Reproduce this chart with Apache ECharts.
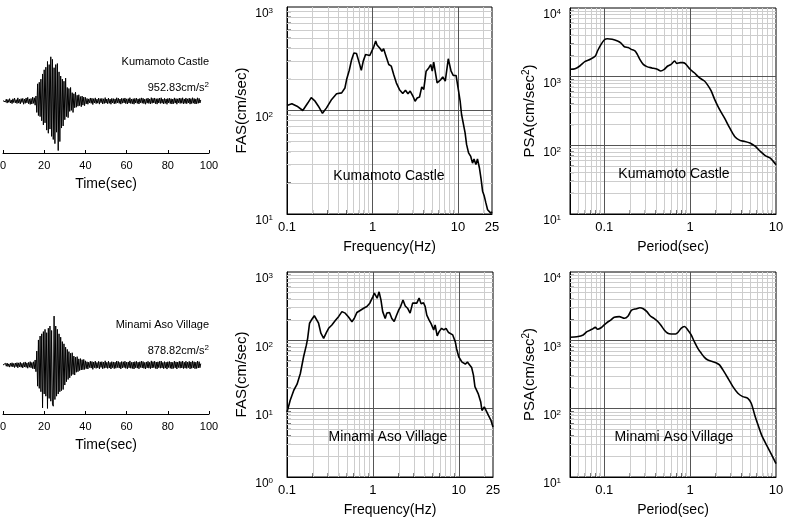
<!DOCTYPE html>
<html><head><meta charset="utf-8">
<script src="https://cdn.jsdelivr.net/npm/echarts@6/dist/echarts.min.js"></script>
<style>html,body{margin:0;padding:0;background:#fff}#c{width:785px;height:518px}</style>
</head><body><div id="c"></div>
<script>
// ---------------- data ----------------
const DT = 0.4;
const stationNames = ['Kumamoto Castle', 'Minami Aso Village'];
const peakAcc = ['952.83', '878.82'];
const timeTicks = [0, 20, 40, 60, 80, 100];

const kumaAcc = [
5,-22,30,-18,35,-40,28,-25,45,-38,20,-50,42,-30,55,-35,25,-48,60,-40,32,-55,45,-28,50,-62,38,-45,58,-35,70,-52,40,-65,48,-58,75,-45,62,-80,95,
-220,330,-280,360,-300,
420,-380,520,-460,600,-420,650,
-560,760,-620,700,-540,850,-680,800,
-740,640,-820,700,-600,720,-952.83,560,-780,480,
-520,420,-480,380,-360,440,-300,260,-320,240,
-200,260,-180,160,-220,140,-130,170,-120,110,
-100,120,-90,85,-110,95,-80,75,-90,70,
-55,48,-62,40,-35,58,-45,52,-68,44,
-38,60,-50,35,-42,55,-60,46,-33,50,
-58,42,-47,65,-40,38,-52,57,-44,36,
-62,50,-38,45,-55,40,-48,62,-35,53,
-45,38,-60,52,-42,47,-36,58,-50,41,
-57,45,-40,63,-48,37,-53,44,-61,50,
-39,55,-46,40,-58,48,-34,60,-43,52,
-50,36,-62,45,-41,56,-47,39,-55,64,
-44,50,-37,58,-52,43,-60,47,-38,55,
-48,62,-42,36,-56,51,-45,40,-63,48,
-36,53,-49,44,-58,38,-51,60,-40,46,
-61,42,-35,57,-47,50,-43,62,-54,39,
-46,58,-52,41,-38,55,-60,45,-49,63,
-42,48,-57,40,-53,61,-44,50,-39,20
];

const asoAcc = [
0,18,-25,30,-22,35,-28,20,-38,32,-26,40,-34,28,-45,36,-30,42,-50,38,-33,48,-40,30,-52,44,-36,55,-42,38,-58,46,-40,60,-50,45,-65,58,-70,90,-120,
250,-380,450,-420,520,
-480,560,-770,600,-520,640,-560,
580,-780,660,-600,700,-650,620,-700,
-740,878.82,-620,700,-560,640,-520,560,-480,500,
-460,420,-440,380,-360,320,-300,280,-260,240,
-230,210,-190,220,-170,160,-180,140,-130,150,
-120,110,-100,115,-90,95,-85,100,-80,75,
-65,58,-72,50,-45,68,-55,62,-78,54,
-48,70,-60,45,-52,65,-70,56,-43,60,
-68,52,-57,75,-50,48,-62,67,-54,46,
-72,60,-48,55,-65,50,-58,72,-45,63,
-55,48,-70,62,-52,57,-46,68,-60,51,
-67,55,-50,73,-58,47,-63,54,-71,60,
-49,65,-56,50,-68,58,-44,70,-53,62,
-60,46,-72,55,-51,66,-57,49,-65,74,
-54,60,-47,68,-62,53,-70,57,-48,65,
-58,72,-52,46,-66,61,-55,50,-73,58,
-46,63,-59,54,-68,48,-61,70,-50,56,
-71,52,-45,67,-57,60,-53,72,-64,49,
-56,68,-62,51,-48,65,-70,55,-59,73,
-52,58,-67,50,-63,71,-54,60,-49,25
];

// Fourier amplitude spectra [frequency Hz, cm/s]
const kumaFas = [[0.1,112],[0.114,116],[0.131,110],[0.153,100],[0.175,118],[0.192,133],[0.213,123],[0.233,110],[0.26,94],[0.29,106],[0.333,128],[0.38,145],[0.436,148],[0.476,165],[0.498,199],[0.535,245],[0.57,310],[0.606,360],[0.65,355],[0.69,300],[0.74,245],[0.78,300],[0.83,347],[0.87,355],[0.93,340],[0.97,335],[1.04,417],[1.09,470],[1.13,430],[1.16,417],[1.22,400],[1.29,374],[1.35,395],[1.44,335],[1.55,278],[1.66,268],[1.77,223],[1.9,185],[2.07,159],[2.26,146],[2.43,157],[2.6,145],[2.76,154],[2.97,138],[3.15,123],[3.33,132],[3.55,135],[3.77,169],[3.98,160],[4.24,240],[4.55,258],[4.8,278],[5.0,240],[5.2,293],[5.7,185],[6.3,199],[6.64,211],[7.1,192],[7.7,316],[8.3,240],[8.8,218],[9.5,218],[10.1,159],[10.6,123],[11.0,92],[11.6,92],[12.1,61],[12.6,47],[13.3,39],[14.1,36],[14.8,31],[15.4,34],[16.2,30],[16.9,34],[17.8,28],[18.6,22],[19.4,16.6],[20.3,14.9],[21.2,12.8],[22.2,11],[23.2,11.4],[24.2,10.2],[25,10.5]];
const asoFas = [[0.1,8.9],[0.109,13.3],[0.12,18.6],[0.131,22.8],[0.143,32.7],[0.156,57.5],[0.168,85],[0.174,107],[0.183,178],[0.195,204],[0.208,229],[0.219,224],[0.233,178],[0.248,127],[0.267,107],[0.287,130],[0.305,150],[0.333,168],[0.365,195],[0.4,224],[0.436,263],[0.476,250],[0.52,219],[0.57,187],[0.606,209],[0.65,255],[0.71,273],[0.78,295],[0.85,312],[0.92,350],[0.97,330],[1.0,437],[1.04,490],[1.12,414],[1.18,513],[1.24,390],[1.3,263],[1.39,209],[1.45,250],[1.56,255],[1.66,209],[1.77,188],[1.87,227],[2.0,279],[2.1,312],[2.24,390],[2.38,318],[2.53,295],[2.71,250],[2.9,350],[3.05,330],[3.24,350],[3.45,415],[3.64,343],[3.88,355],[4.06,312],[4.24,234],[4.5,199],[4.77,174],[5.1,142],[5.3,168],[5.6,116],[5.9,134],[6.3,150],[6.7,142],[7.1,150],[7.6,130],[8.0,127],[8.5,120],[9.1,95],[9.4,76],[10,57],[10.9,48],[11.9,45],[12.6,48],[13.3,44],[14.1,40],[14.8,31],[15.4,21],[16.2,21.5],[16.9,16.3],[18,12.5],[18.6,9.4],[19.8,10.6],[20.7,10],[22.2,7.9],[23.6,6.8],[25,5.4]];

// Pseudo spectral acceleration [period s, cm/s^2]
const kumaPsa = [[0.04,1280],[0.0458,1306],[0.052,1430],[0.06,1670],[0.069,1790],[0.079,2000],[0.0836,2366],[0.092,2960],[0.1,3420],[0.109,3570],[0.124,3500],[0.143,3300],[0.157,3090],[0.172,2730],[0.19,2650],[0.207,2500],[0.228,2366],[0.243,2110],[0.26,1790],[0.285,1510],[0.314,1400],[0.36,1340],[0.415,1280],[0.455,1210],[0.5,1280],[0.55,1430],[0.6,1510],[0.66,1690],[0.7,1560],[0.77,1600],[0.82,1600],[0.88,1545],[1.0,1280],[1.12,1140],[1.28,967],[1.47,864],[1.61,748],[1.76,620],[1.93,468],[2.2,333],[2.51,251],[2.89,179],[3.3,135],[3.8,118],[4.35,114],[4.98,108],[5.7,97],[6.55,82],[7.5,71],[8.6,65],[10,52]];
const asoPsa = [[0.04,1107],[0.048,1130],[0.057,1200],[0.063,1340],[0.072,1450],[0.079,1550],[0.0836,1450],[0.092,1530],[0.1,1680],[0.109,1840],[0.12,1990],[0.131,2170],[0.15,2220],[0.172,2100],[0.19,2270],[0.207,2750],[0.237,2900],[0.26,3000],[0.285,2900],[0.314,2630],[0.345,2270],[0.38,2100],[0.415,1920],[0.455,1680],[0.5,1420],[0.55,1270],[0.6,1240],[0.68,1240],[0.72,1300],[0.785,1500],[0.86,1590],[0.94,1420],[1.03,1200],[1.12,955],[1.23,763],[1.35,645],[1.47,563],[1.61,515],[1.84,487],[2.0,470],[2.2,437],[2.41,369],[2.76,279],[3.15,210],[3.6,168],[4.1,150],[4.7,142],[5.15,120],[5.65,81],[6.2,57],[6.8,41],[7.8,29],[8.9,21],[10,15.7]];

const fasXLabels = [0.1, 1, 10, 25];
const psaXLabels = [0.1, 1, 10];
const decadeMultipliers = [1, 2, 3, 4, 5, 6, 7, 8, 9];

// ---------------- build ----------------
const FONT = '"Liberation Sans", Arial, Helvetica, sans-serif';
const waveYMax = [1000, 880];

function gridValues(min, max) {
  const major = [], minor = [];
  for (let e = -3; e <= 5; e++) {
    const d = Math.pow(10, e);
    for (const m of decadeMultipliers) {
      const v = +(m * d).toPrecision(6);
      if (v <= min * 1.0001 || v >= max * 0.9999) continue;
      (m === 1 ? major : minor).push(v);
    }
  }
  return { major, minor };
}
function xLabelFmt(list) {
  return v => { for (const t of list) if (Math.abs(v - t) / t < 1e-6) return String(t); return ''; };
}
function yLabelFmt(v) {
  const e = Math.log10(v);
  if (Math.abs(e - Math.round(e)) > 1e-6) return '';
  return '{b|10}{s|' + Math.round(e) + '}';
}

const grids = [
  { left: 3, top: 49, width: 206, height: 104 },
  { left: 3, top: 316, width: 206, height: 98 },
  { left: 287, top: 7, width: 205, height: 207 },
  { left: 570, top: 8, width: 206, height: 206 },
  { left: 287, top: 272, width: 206, height: 205 },
  { left: 570, top: 272, width: 206, height: 205 }
].map(g => Object.assign({ outerBoundsMode: 'none', containLabel: false }, g));

const xAxes = [], yAxes = [], series = [];

// waveform panels
[kumaAcc, asoAcc].forEach((acc, k) => {
  xAxes.push({
    type: 'value', gridIndex: k, min: 0, max: 100, interval: 20,
    axisLine: { show: true, onZero: false, lineStyle: { color: '#000', width: 1 } },
    axisTick: { show: true, inside: true, length: 3, lineStyle: { color: '#000' } },
    splitLine: { show: false },
    axisLabel: { color: '#000', fontSize: 11, fontFamily: FONT, margin: 7,
      formatter: v => timeTicks.indexOf(v) >= 0 ? String(v) : '' },
    name: 'Time(sec)', nameLocation: 'middle', nameGap: 24, nameMoveOverlap: false,
    nameTextStyle: { color: '#000', fontSize: 14, fontFamily: FONT }
  });
  yAxes.push({ type: 'value', gridIndex: k, min: -waveYMax[k], max: waveYMax[k], show: false });
  series.push({
    type: 'line', xAxisIndex: k, yAxisIndex: k, showSymbol: false, silent: true,
    data: acc.map((v, i) => [i * DT, v]),
    lineStyle: { color: '#000', width: 1 }, z: 5
  });
});

const spectra = [
  { g: 2, data: kumaFas, x: [0.1, 25], y: [10, 1000], labels: fasXLabels, xName: 'Frequency(Hz)', yName: 'FAS(cm/sec)', gap: 37, smooth: false },
  { g: 3, data: kumaPsa, x: [0.04, 10], y: [10, 10000], labels: psaXLabels, xName: 'Period(sec)', yName: 'PSA(cm/sec{s|2})', gap: 32, smooth: 0.25 },
  { g: 4, data: asoFas, x: [0.1, 25], y: [1, 1000], labels: fasXLabels, xName: 'Frequency(Hz)', yName: 'FAS(cm/sec)', gap: 37, smooth: false },
  { g: 5, data: asoPsa, x: [0.04, 10], y: [10, 10000], labels: psaXLabels, xName: 'Period(sec)', yName: 'PSA(cm/sec{s|2})', gap: 32, smooth: 0.25 }
];

spectra.forEach(p => {
  const ai = xAxes.length;
  const isFas = p.xName.indexOf('Freq') === 0;
  grids[p.g].show = true;
  grids[p.g].borderColor = '#000';
  grids[p.g].borderWidth = 1;
  grids[p.g].backgroundColor = 'transparent';
  xAxes.push({
    type: 'log', logBase: 10, gridIndex: p.g, min: p.x[0], max: p.x[1],
    axisLine: { show: true, onZero: false, lineStyle: { color: '#000', width: 1 } },
    axisTick: { show: false }, splitLine: { show: false },
    axisLabel: { color: '#000', fontSize: 13, fontFamily: FONT, margin: 7, formatter: xLabelFmt(p.labels) },
    name: p.xName, nameLocation: 'middle', nameGap: 26, nameMoveOverlap: false,
    nameTextStyle: { color: '#000', fontSize: 14, fontFamily: FONT }
  });
  yAxes.push({
    type: 'log', logBase: 10, gridIndex: p.g, min: p.y[0], max: p.y[1],
    axisLine: { show: true, onZero: false, lineStyle: { color: '#000', width: 1 } },
    axisTick: { show: false }, splitLine: { show: false },
    axisLabel: { color: '#000', fontFamily: FONT, margin: isFas ? 14 : 9, verticalAlign: 'top',
      formatter: yLabelFmt,
      rich: { b: { fontSize: 12, lineHeight: 14, fontFamily: FONT, color: '#000' },
              s: { fontSize: 8, lineHeight: 6, verticalAlign: 'top', fontFamily: FONT, color: '#000' } } },
    name: p.yName, nameLocation: 'middle', nameGap: p.gap, nameMoveOverlap: false,
    nameTextStyle: { color: '#000', fontSize: 15, fontFamily: FONT, lineHeight: 17,
      rich: { s: { fontSize: 10, lineHeight: 8, verticalAlign: 'top', fontFamily: FONT, color: '#000' } } }
  });
  const gx = gridValues(p.x[0], p.x[1]);
  const gy = gridValues(p.y[0], p.y[1]);
  const light = { color: '#cdcdcd', width: 1, type: 'solid' };
  const dark = { color: '#555', width: 1, type: 'solid' };
  const ml = [].concat(
    gx.minor.map(v => ({ xAxis: v, lineStyle: light })),
    gy.minor.map(v => ({ yAxis: v, lineStyle: light })),
    gx.major.map(v => ({ xAxis: v, lineStyle: dark })),
    gy.major.map(v => ({ yAxis: v, lineStyle: dark }))
  );
  series.push({
    type: 'line', xAxisIndex: ai, yAxisIndex: ai, data: [], silent: true, z: 1,
    markLine: { silent: true, symbol: 'none', precision: 8, animation: false,
      label: { show: false }, emphasis: { disabled: true }, data: ml }
  });
  series.push({
    type: 'scatter', xAxisIndex: ai, yAxisIndex: ai, silent: true, clip: false, z: 4,
    symbol: 'rect', symbolSize: [1, 4], symbolOffset: [0, -2], itemStyle: { color: '#000' },
    data: gx.minor.map(v => [v, p.y[0]])
  });
  series.push({
    type: 'scatter', xAxisIndex: ai, yAxisIndex: ai, silent: true, clip: false, z: 4,
    symbol: 'rect', symbolSize: [4, 1], symbolOffset: [2, 0], itemStyle: { color: '#000' },
    data: gy.minor.map(v => [p.x[0], v])
  });
  series.push({
    type: 'line', xAxisIndex: ai, yAxisIndex: ai, showSymbol: false, silent: true, z: 5,
    smooth: p.smooth, data: p.data, lineStyle: { color: '#000', width: 1.6 }
  });
});

function txt(x, y, text, size, align, extra) {
  return { type: 'text', x: x, y: y, silent: true, z: 100,
    style: Object.assign({ text: text, fontSize: size, fontFamily: FONT, fill: '#000',
      align: align, verticalAlign: 'middle' }, extra || {}) };
}
const supRich = { rich: { s: { fontSize: 8, lineHeight: 7, verticalAlign: 'top', fontFamily: FONT, fill: '#000' } }, lineHeight: 14 };

const graphic = [
  txt(209, 62, stationNames[0], 11, 'right'),
  txt(209, 88, peakAcc[0] + 'cm/s{s|2}', 11, 'right', supRich),
  txt(209, 325, stationNames[1], 11, 'right'),
  txt(209, 351, peakAcc[1] + 'cm/s{s|2}', 11, 'right', supRich),
  txt(389, 176, stationNames[0], 14, 'center'),
  txt(674, 174, stationNames[0], 14, 'center'),
  txt(388, 437, stationNames[1], 14, 'center'),
  txt(674, 437, stationNames[1], 14, 'center')
];

const chart = echarts.init(document.getElementById('c'), null, { renderer: 'canvas' });
chart.setOption({
  animation: false,
  backgroundColor: '#fff',
  textStyle: { fontFamily: FONT },
  grid: grids,
  xAxis: xAxes,
  yAxis: yAxes,
  series: series,
  graphic: graphic
});
</script>
</body></html>
